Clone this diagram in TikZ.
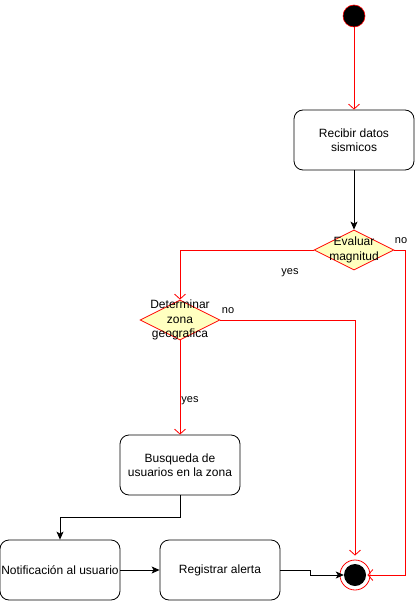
\documentclass[tikz,border=0pt]{standalone}
\usepackage{fontspec}
\setmainfont{Liberation Sans}
\usetikzlibrary{shapes.geometric,arrows.meta}
\definecolor{dred}{HTML}{FF0000}
\definecolor{dyel}{HTML}{FFFFC0}
\begin{document}
\begin{tikzpicture}[x=1pt,y=-1pt,
  box/.style={draw=black,line width=0.8pt,rounded corners=9pt,minimum width=120pt,minimum height=60pt,align=center,font=\fontsize{12}{14}\selectfont,inner sep=0pt},
  dia/.style={shape=diamond,draw=dred,fill=dyel,line width=0.8pt,minimum width=80pt,minimum height=40pt,inner sep=0pt,aspect=2},
  dtext/.style={align=center,font=\fontsize{12}{14.5}\selectfont,inner sep=0pt},
  lab/.style={font=\fontsize{11}{13}\selectfont,inner sep=0pt},
  redarr/.style={draw=dred,line width=0.8pt,-{Straight Barb[length=5pt,width=11pt,line width=0.8pt]}},
  blkarr/.style={draw=black,line width=0.8pt,-{Stealth[length=8pt,width=7pt,inset=2pt]}}]
\useasboundingbox (0,0) rectangle (415,601);
% start
\node[circle,fill=black,draw=dred,line width=0.6pt,minimum size=22pt,inner sep=0pt] (start) at (354,16) {};
% boxes
\node[box] (rec) at (354,140) {Recibir datos\\sismicos};
\node[dia] (ev) at (354,250) {};
\node[dtext] (evt) at (354,250) {Evaluar\\magnitud};
\node[dia] (dz) at (180,320) {};
\node[dtext] (dzt) at (180,320) {Determinar\\zona\\geografica};
\node[box] (bus) at (180,465) {Busqueda de\\usuarios en la zona};
\node[box] (not) at (60,570) {Notificación al usuario};
\node[box] (reg) at (220,570) {Registrar alerta};
% end
\node[circle,draw=dred,line width=0.8pt,minimum size=30pt,inner sep=0pt] (end) at (355,575) {};
\node[circle,fill=black,minimum size=22pt,inner sep=0pt] (endin) at (355,575) {};
% coordinates
\coordinate (c1) at (405,250);
\coordinate (c2) at (180,250);
\coordinate (c3) at (355,320);
\coordinate (c4) at (180,517);
\coordinate (c5) at (60,517);
\coordinate (c6) at (310,570);
% edges
\draw[redarr] (start) -- (rec);
\draw[blkarr] (rec) -- (ev.north);
\draw[redarr] (ev.east) -- (c1) |- ([xshift=-3pt]end.east);
\draw[redarr] (ev.west) -- (c2) -- (dz.north);
\draw[redarr] (dz.east) -- (c3) -- ([yshift=4pt]end.north);
\draw[redarr] (dz.south) -- (bus.north);
\draw[blkarr] (bus.south) -- (c4) -- (c5) -- (not.north);
\draw[blkarr] (not.east) -- (reg.west);
\draw[blkarr] (reg.east) -- (c6) |- (endin.west);
% labels
\node[lab] (l1) at (401,241) {no};
\node[lab] (l2) at (290,273) {yes};
\node[lab] (l3) at (228,311) {no};
\node[lab] (l4) at (190,401) {yes};
\end{tikzpicture}
\end{document}
